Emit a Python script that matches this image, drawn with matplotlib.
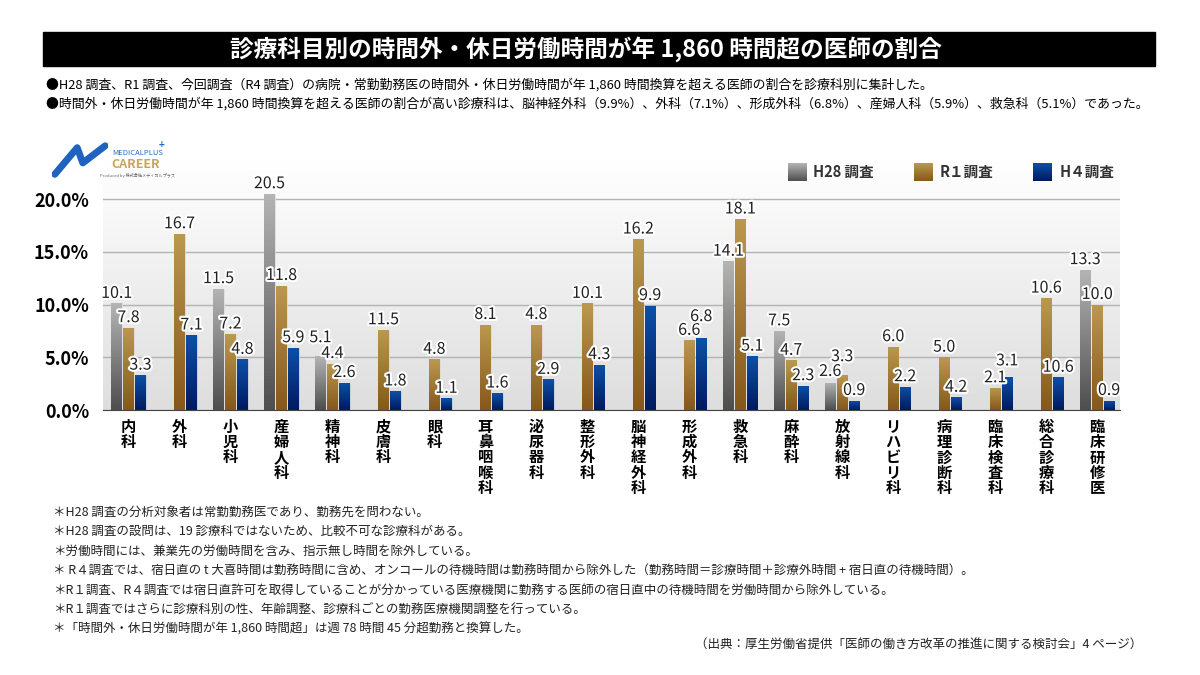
import numpy as np
import matplotlib
matplotlib.use('Agg')
import matplotlib.pyplot as plt
from matplotlib.colors import LinearSegmentedColormap
from matplotlib.patches import Rectangle
import matplotlib.patheffects as pe

plt.rcParams['font.family'] = ['Noto Sans CJK JP', 'DejaVu Sans']

# data
depts = ['内科', '外科', '小児科', '産婦人科', '精神科', '皮膚科', '眼科', '耳鼻咽喉科',
         '泌尿器科', '整形外科', '脳神経外科', '形成外科', '救急科', '麻酔科', '放射線科',
         'リハビリ科', '病理診断科', '臨床検査科', '総合診療科', '臨床研修医']
nan = np.nan
h28 = [10.1, nan, 11.5, 20.5, 5.1, nan, nan, nan, nan, nan,
       nan, nan, 14.1, 7.5, 2.6, nan, nan, nan, nan, 13.3]
r1 = [7.8, 16.7, 7.2, 11.8, 4.4, 7.6, 4.8, 8.1, 8.1, 10.1,
      16.2, 6.6, 18.1, 4.7, 3.3, 6.0, 5.0, 2.1, 10.6, 10.0]
h4 = [3.3, 7.1, 4.8, 5.9, 2.6, 1.8, 1.1, 1.6, 2.9, 4.3,
      9.9, 6.8, 5.1, 2.3, 0.9, 2.2, 1.2, 3.1, 3.1, 0.9]
# value labels as printed in the source (a few differ from the bar heights)
r1_labels = [7.8, 16.7, 7.2, 11.8, 4.4, 11.5, 4.8, 8.1, 4.8, 10.1,
             16.2, 6.6, 18.1, 4.7, 3.3, 6.0, 5.0, 2.1, 10.6, 10.0]
h4_labels = [3.3, 7.1, 4.8, 5.9, 2.6, 1.8, 1.1, 1.6, 2.9, 4.3,
             9.9, 6.8, 5.1, 2.3, 0.9, 2.2, 4.2, 3.1, 10.6, 0.9]
series_names = ['H28 調査', 'R１調査', 'H４調査']
yticks = [0, 5, 10, 15, 20]

title = '診療科目別の時間外・休日労働時間が年 1,860 時間超の医師の割合'
header = ['●H28 調査、R1 調査、今回調査（R4 調査）の病院・常勤勤務医の時間外・休日労働時間が年 1,860 時間換算を超える医師の割合を診療科別に集計した。',
          '●時間外・休日労働時間が年 1,860 時間換算を超える医師の割合が高い診療科は、脳神経外科（9.9%）、外科（7.1%）、形成外科（6.8%）、産婦人科（5.9%）、救急科（5.1%）であった。']
notes = ['＊H28 調査の分析対象者は常勤勤務医であり、勤務先を問わない。',
         '＊H28 調査の設問は、19 診療科ではないため、比較不可な診療科がある。',
         '＊労働時間には、兼業先の労働時間を含み、指示無し時間を除外している。',
         '＊ R４調査では、宿日直の t 大喜時間は勤務時間に含め、オンコールの待機時間は勤務時間から除外した（勤務時間＝診療時間＋診療外時間 + 宿日直の待機時間）。',
         '＊R１調査、R４調査では宿日直許可を取得していることが分かっている医療機関に勤務する医師の宿日直中の待機時間を労働時間から除外している。',
         '＊R１調査ではさらに診療科別の性、年齢調整、診療科ごとの勤務医療機関調整を行っている。',
         '＊「時間外・休日労働時間が年 1,860 時間超」は週 78 時間 45 分超勤務と換算した。']
source = '（出典：厚生労働省提供「医師の働き方改革の推進に関する検討会」4 ページ）'

grads = [('#b4b4b4', '#4e4e4e'), ('#bb9850', '#86581a'), ('#0d50a8', '#001a60')]
# labels lifted a little where neighbours collide, as in the source
lift = {(0, 4): 0.8, (1, 14): 0.8, (2, 11): 1.1, (0, 14): 0.1, (2, 17): 0.6}

W, H = 1200, 675
fig = plt.figure(figsize=(12, 6.75), dpi=100)


def fx(px):
    return px / W


def fy(py):
    return 1 - py / H


# title bar
fig.patches.append(Rectangle((fx(43), fy(66)), fx(1155) - fx(43), fy(32) - fy(66),
                             transform=fig.transFigure, color='black', zorder=0))
fig.text(fx(586), fy(49), title, color='white', fontsize=17, fontweight='bold',
         ha='center', va='center')
fig.text(fx(46), fy(85), header[0], fontsize=9.3, va='center')
fig.text(fx(46), fy(104), header[1], fontsize=9.3, va='center')

# chart axes
ax = fig.add_axes([fx(103), fy(410), fx(1120) - fx(103), fy(160) - fy(410)])
x = np.arange(len(depts))
w = 0.205
off = 0.235
xlim = (-0.5, len(depts) - 0.55)
ylim = (0, 23.7)

bg = np.linspace(0, 1, 100).reshape(-1, 1)
bg_cmap = LinearSegmentedColormap.from_list('bg', ['#dedede', '#ffffff'])
ax.imshow(bg, extent=[xlim[0], xlim[1], ylim[0], ylim[1]], origin='lower',
          cmap=bg_cmap, aspect='auto', zorder=0)

gcol = np.linspace(0, 1, 64).reshape(-1, 1)
for i, vals in enumerate([h28, r1, h4]):
    top, bot = grads[i]
    cmap = LinearSegmentedColormap.from_list('g%d' % i, [bot, top])
    bars = ax.bar(x + (i - 1) * off, vals, width=w, color=top, edgecolor='#e8e8e8',
                  linewidth=0.5, zorder=2)
    for b in bars:
        if np.isnan(b.get_height()):
            continue
        im = ax.imshow(gcol, extent=[b.get_x(), b.get_x() + b.get_width(), 0, b.get_height()],
                       origin='lower', cmap=cmap, aspect='auto', zorder=2.5)
        im.set_clip_path(b)

labels = [h28, r1_labels, h4_labels]
heights = [h28, r1, h4]
stroke = [pe.withStroke(linewidth=3, foreground='white')]
for i in range(3):
    for j in range(len(depts)):
        v = heights[i][j]
        if np.isnan(v):
            continue
        ax.text(x[j] + (i - 1) * off, v + 0.15 + lift.get((i, j), 0), '%.1f' % labels[i][j],
                ha='center', va='bottom', fontsize=11.5, color='#222222',
                path_effects=stroke, zorder=5)

ax.set_xlim(xlim)
ax.set_ylim(ylim)
ax.set_yticks(yticks)
ax.set_yticklabels(['%.1f%%' % t for t in yticks], fontsize=13, fontweight='bold')
ax.tick_params(axis='y', length=0, pad=10)
ax.set_xticks([])
ax.yaxis.grid(True, color='#b2b2b2', linewidth=1)
ax.set_axisbelow(True)
for s in ['top', 'right', 'left']:
    ax.spines[s].set_visible(False)
ax.spines['bottom'].set_color('#444444')
ax.spines['bottom'].set_zorder(6)

for j, d in enumerate(depts):
    ax.text(x[j], -0.035, '\n'.join(d), transform=ax.get_xaxis_transform(), ha='center',
            va='top', fontsize=11, fontweight='bold', linespacing=0.95)

# legend
leg_sq = [788, 914, 1033]
leg_tx = [813, 940, 1060]
for i in range(3):
    top, bot = grads[i]
    lax = fig.add_axes([fx(leg_sq[i]), fy(181), fx(19), fy(163) - fy(181)])
    cmap = LinearSegmentedColormap.from_list('l%d' % i, [bot, top])
    lax.imshow(gcol, origin='lower', cmap=cmap, aspect='auto')
    lax.axis('off')
    fig.text(fx(leg_tx[i]), fy(172), series_names[i], fontsize=10.5, fontweight='bold',
             va='center', color='#333333')

# logo
lg = fig.add_axes([fx(52), fy(180), fx(56), fy(142) - fy(180)])
lg.plot([0.05, 0.45, 0.55, 0.95], [0.15, 0.85, 0.45, 0.9],
        color='#1f63c0', linewidth=5, solid_capstyle='round', solid_joinstyle='round')
lg.set_xlim(0, 1)
lg.set_ylim(0, 1)
lg.axis('off')
fig.text(fx(112), fy(153), 'MEDICALPLUS', fontsize=5.5, color='#2a6cc4', va='center')
fig.text(fx(159), fy(145), '+', fontsize=7, color='#2a6cc4', va='center', fontweight='bold')
fig.text(fx(111), fy(164), 'CAREER', fontsize=9, color='#c9a45a', va='center', fontweight='bold')
fig.text(fx(100), fy(175), 'Produced by 株式会社メディカルプラス', fontsize=3, color='#666666', va='center')

# footnotes
for k, n in enumerate(notes):
    fig.text(fx(53), fy(512 + k * 19.5), n, fontsize=9, va='center', color='#222222')
fig.text(fx(1142), fy(645), source, fontsize=9, va='center', ha='right', color='#222222')

plt.savefig('out.png', dpi=100)
plt.close()
